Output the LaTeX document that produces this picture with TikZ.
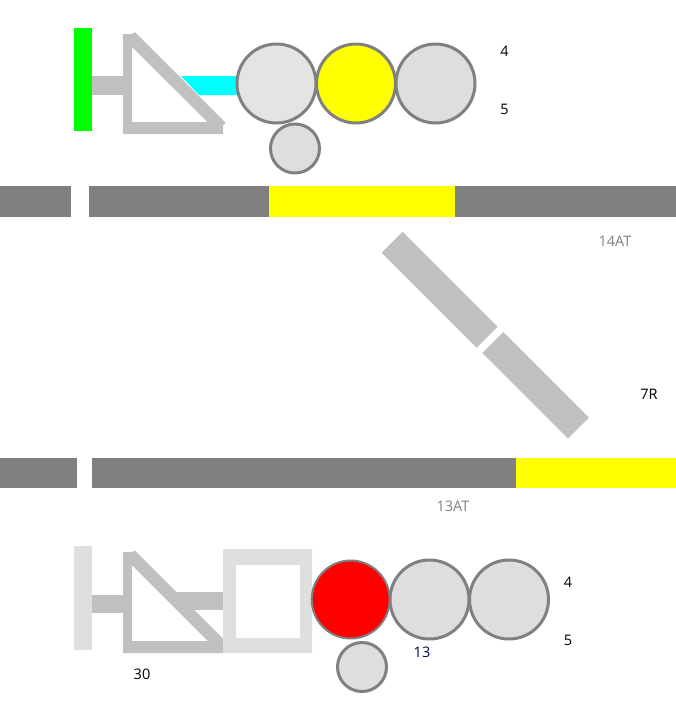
\documentclass[tikz,border=0pt]{standalone}
\usepackage{fontspec}
\setmainfont{Open Sans}
\definecolor{railgrey}{HTML}{808080}
\definecolor{partgrey}{HTML}{C0C0C0}
\definecolor{pale}{HTML}{DFDFDF}
\definecolor{wheelA}{HTML}{E4E4E4}
\definecolor{wheelB}{HTML}{DEDEDE}
\definecolor{navy}{HTML}{000050}
\definecolor{pureyellow}{HTML}{FFFF00}
\definecolor{purecyan}{HTML}{00FFFF}
\definecolor{puregreen}{HTML}{00FF00}
\definecolor{purered}{HTML}{FF0000}
\tikzset{
  rail/.style={fill=railgrey,draw=none},
  hot/.style={fill=pureyellow,draw=none},
  part/.style={fill=partgrey,draw=none},
  wheel/.style={draw=railgrey,line width=3pt},
  lbl/.style={font=\fontsize{14.5}{16}\selectfont,text=black,inner sep=0pt},
  glbl/.style={lbl,text=railgrey}
}
\begin{document}
\begin{tikzpicture}[x=1pt,y=-1pt]
\useasboundingbox (0,0) rectangle (676,710);
% upper unit
\fill[puregreen] (74,28) rectangle (92,131);
\fill[part] (92,76) rectangle (123,95);
\fill[purecyan] (181,76) -- (237,76) -- (237,95) -- (199,95) -- cycle;
\fill[part,even odd rule] (123,34) -- (132,34) -- (135,32) -- (225.7,122.7) -- (223,125.5) -- (223,134) -- (123,134) -- cycle
  (132,47) -- (207.5,122) -- (132,122) -- cycle;
\draw[wheel,fill=wheelA] (276.5,83.5) circle (39.5);
\draw[wheel,fill=pureyellow] (356,83.5) circle (39.5);
\draw[wheel,fill=wheelB] (435.5,83.5) circle (39.5);
\draw[wheel,fill=wheelB] (295,148.5) circle (24.5);
% rails
\fill[rail] (0,186) rectangle (71,217);
\fill[rail] (89,186) rectangle (269,217);
\fill[hot] (269,186) rectangle (455,217);
\fill[rail] (455,186) rectangle (676,217);
\fill[rail] (0,458) rectangle (77,488);
\fill[rail] (92,458) rectangle (516,488);
\fill[hot] (516,458) rectangle (676,488);
% diagonal
\fill[part] (402.7,231.7) -- (497.7,326.7) -- (476.7,347.7) -- (381.7,252.7) -- cycle;
\fill[part] (503.3,332) -- (589,417.7) -- (568,438.7) -- (482.3,353) -- cycle;
% lower unit
\fill[pale] (74,546) rectangle (92,650);
\fill[part] (92,595) rectangle (123,613);
\fill[part] (177,592) rectangle (223,610);
\fill[part,even odd rule] (123,552) -- (132,552) -- (135,550.5) -- (223,638.5) -- (223,653) -- (123,653) -- cycle
  (132,565) -- (208,641) -- (132,641) -- cycle;
\fill[pale,even odd rule] (223,549) rectangle (312,653) (236,565) rectangle (300,638);
\draw[wheel,fill=wheelB] (429.5,599.5) circle (39.5);
\draw[wheel,fill=wheelB] (509,599.5) circle (39.5);
\draw[wheel,fill=wheelB] (362,667) circle (24.5);
\draw[draw=railgrey,line width=2pt,fill=purered] (350.7,599.5) circle (39);
% labels
\node[lbl] (a) at (504.5,51) {4};
\node[lbl] (b) at (504.5,109) {5};
\node[glbl] (c) at (615,241) {14AT};
\node[lbl] (d) at (649,394) {7R};
\node[glbl] (e) at (453,506.5) {13AT};
\node[lbl] (f) at (568,582) {4};
\node[lbl] (g) at (568,640) {5};
\node[lbl,text=navy] (h) at (422,652) {13};
\node[lbl] (i) at (142,674.5) {30};
\end{tikzpicture}
\end{document}
